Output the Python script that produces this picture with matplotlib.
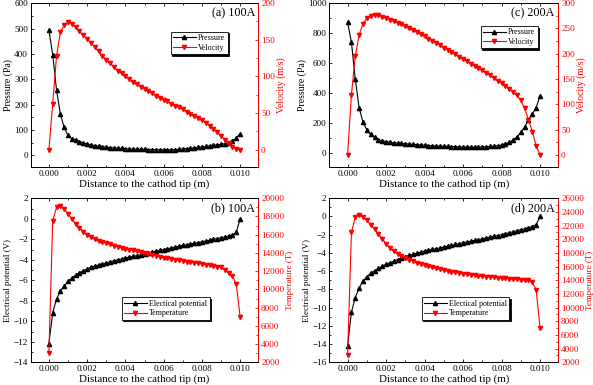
#!/usr/bin/env python

"""
  Pressure / velocity and potential / temperature along the arc axis,
  for 100A and 200A, four panels with twin y axes.
"""

#-------------
# Load modules
#-------------
import matplotlib
matplotlib.use('Agg')
import matplotlib.pyplot as plt
import numpy as np
from matplotlib.ticker import MultipleLocator, AutoMinorLocator

plt.rcParams['font.family'] = ['Liberation Serif', 'DejaVu Serif']

#-----
# Data
#-----
dist = [i * 0.0002 for i in range(51)]

pres_100 = [495, 397, 258, 162, 110, 78, 65, 62, 54, 49,
            44, 41, 38, 36, 34, 32, 30, 29, 28, 27,
            25, 25, 24, 24, 23, 23, 22, 22, 22, 21,
            21, 21, 21, 22, 23, 25, 26, 28, 29, 31,
            33, 35, 37, 39, 41, 43, 46, 49, 57, 69, 84]
vel_100 = [0, 63, 128, 160, 170, 174, 172, 167, 162, 156,
           151, 146, 140, 134, 128, 123, 118, 113, 108, 104,
           100, 96, 92, 89, 86, 83, 80, 77, 74, 71,
           68, 66, 63, 60, 58, 55, 52, 49, 46, 43,
           40, 37, 33, 29, 24, 19, 14, 9, 4, 1, 0]

pres_200 = [871, 739, 492, 301, 207, 154, 125, 105, 90, 82,
            76, 72, 68, 66, 64, 62, 60, 58, 56, 54,
            52, 50, 49, 47, 46, 45, 44, 43, 42, 41,
            40, 40, 40, 40, 40, 41, 42, 44, 46, 49,
            53, 62, 71, 87, 107, 138, 174, 220, 263, 303, 383]
vel_200 = [0, 119, 195, 237, 259, 270, 275, 277, 276, 273,
           270, 267, 264, 261, 258, 254, 250, 246, 242, 238,
           234, 230, 226, 222, 217, 212, 208, 203, 199, 194,
           189, 185, 180, 176, 171, 167, 162, 157, 152, 147,
           142, 137, 131, 125, 118, 108, 92, 70, 46, 18, 0]

pot_100 = [-12.2, -9.15, -7.84, -7.05, -6.55, -6.1, -5.8, -5.5, -5.27, -5.07,
           -4.87, -4.74, -4.62, -4.50, -4.40, -4.30, -4.20, -4.10, -4.01, -3.92,
           -3.83, -3.75, -3.67, -3.59, -3.51, -3.43, -3.34, -3.26, -3.17, -3.09,
           -3.00, -2.92, -2.84, -2.76, -2.68, -2.60, -2.53, -2.46, -2.39, -2.32,
           -2.25, -2.17, -2.09, -2.01, -1.93, -1.85, -1.77, -1.69, -1.60, -1.30, 0.0]
temp_100 = [3000, 17550, 19000, 19200, 18850, 18300, 17750, 17200, 16750, 16350,
            16000, 15750, 15520, 15320, 15180, 15050, 14930, 14810, 14700, 14590,
            14480, 14370, 14270, 14160, 14060, 13960, 13870, 13770, 13680, 13580,
            13490, 13420, 13340, 13270, 13200, 13120, 13060, 12990, 12920, 12860,
            12790, 12720, 12650, 12580, 12500, 12420, 12130, 11770, 11480, 10560, 7000]

pot_200 = [-14.2, -10.5, -8.9, -7.84, -7.1, -6.6, -6.24, -5.95, -5.7, -5.47,
           -5.25, -5.07, -4.90, -4.73, -4.56, -4.40, -4.27, -4.15, -4.03, -3.91,
           -3.80, -3.71, -3.62, -3.53, -3.45, -3.36, -3.26, -3.17, -3.07, -2.98,
           -2.88, -2.79, -2.71, -2.62, -2.54, -2.45, -2.36, -2.27, -2.18, -2.09,
           -2.00, -1.89, -1.78, -1.67, -1.56, -1.45, -1.35, -1.24, -1.10, -0.88, 0.0]
temp_200 = [3000, 21000, 23250, 23550, 23250, 22750, 22150, 21480, 20800, 20070,
            19350, 18710, 18270, 17890, 17550, 17250, 17030, 16820, 16600, 16390,
            16190, 16030, 15880, 15740, 15600, 15460, 15360, 15260, 15160, 15060,
            14970, 14890, 14810, 14730, 14660, 14580, 14530, 14480, 14440, 14390,
            14340, 14290, 14240, 14190, 14150, 14100, 14050, 14000, 13710, 12640, 7000]

#----------------------
# Function for plotting
#----------------------
def twinPanel(fig, rect, y1, y2, lab1, lab2, ylab1, ylab2, lim1, lim2,
              step2, ticks1, ticks2, tag, legpos, ylsize):
    ax = fig.add_axes(rect)
    l1, = ax.plot(dist, y1, '-^', color='black', lw=0.8, ms=3, label=lab1)
    ax.set_xlim(-0.00095, 0.01095)
    ax.set_ylim(lim1)
    ax.xaxis.set_major_locator(MultipleLocator(0.002))
    ax.xaxis.set_minor_locator(MultipleLocator(0.001))
    ax.set_yticks(ticks1)
    ax.yaxis.set_minor_locator(AutoMinorLocator(2))
    ax.xaxis.set_major_formatter(plt.FormatStrFormatter('%.3f'))
    ax.tick_params(which='both', direction='in', top=True, labelsize=6.6,
                   width=0.6, pad=2)
    ax.tick_params(which='major', length=2.5)
    ax.tick_params(which='minor', length=1.5)
    ax.set_xlabel('Distance to the cathod tip (m)', fontsize=7.8, labelpad=1)
    ax.set_ylabel(ylab1, fontsize=ylsize, labelpad=1)
    for s in ax.spines.values():
        s.set_linewidth(0.7)

    ax2 = ax.twinx()
    l2, = ax2.plot(dist, y2, '-v', color='red', lw=0.8, ms=3, label=lab2)
    ax2.set_ylim(lim2)
    ax2.set_yticks(ticks2)
    ax2.yaxis.set_minor_locator(MultipleLocator(step2 / 2.0))
    ax2.tick_params(which='both', direction='in', colors='red', labelsize=6.6,
                    width=0.6, pad=2)
    ax2.tick_params(which='major', length=2.5)
    ax2.tick_params(which='minor', length=1.5)
    ax2.set_ylabel(ylab2, color='red', fontsize=ylsize, labelpad=1)
    for s in ax2.spines.values():
        s.set_linewidth(0.7)
    ax2.spines['right'].set_color('red')

    ax.text(0.985, 0.975, tag, transform=ax.transAxes, ha='right', va='top',
            fontsize=8.7)
    leg = ax2.legend([l1, l2], [lab1, lab2], loc='upper left',
                     bbox_to_anchor=legpos, borderaxespad=0, fontsize=5.8,
                     handlelength=2.8, handletextpad=0.3, borderpad=0.3,
                     labelspacing=0.2, fancybox=False, framealpha=1,
                     edgecolor='black',
                     shadow={'color': 'black', 'alpha': 1, 'ox': 1.2, 'oy': -1.2})
    leg.get_frame().set_linewidth(0.6)
    return ax, ax2

#-----------
# The figure
#-----------
fig = plt.figure(figsize=(5.93, 3.85), dpi=100)

twinPanel(fig, [0.0518, 0.566, 0.3838, 0.426], pres_100, vel_100,
          'Pressure', 'Velocity', 'Pressure (Pa)', 'Velocity (m/s)',
          (-47, 601), (-23.6, 200), 50,
          range(0, 601, 100), range(0, 201, 50), '(a) 100A', (0.615, 0.825), 7.0)

twinPanel(fig, [0.5553, 0.566, 0.3862, 0.426], pres_200, vel_200,
          'Pressure', 'Velocity', 'Pressure (Pa)', 'Velocity (m/s)',
          (-94, 1000), (-24, 300), 50,
          range(0, 1001, 200), range(0, 301, 50), '(c) 200A', (0.661, 0.860), 7.0)

twinPanel(fig, [0.0518, 0.059, 0.3838, 0.426], pot_100, temp_100,
          'Electical potential', 'Temperature', 'Electrical potential (V)',
          'Temperature (T)', (-14, 2), (2000, 20000), 2000,
          range(-14, 3, 2), range(2000, 20001, 2000), '(b) 100A', (0.40, 0.396), 6.5)

twinPanel(fig, [0.5553, 0.059, 0.3862, 0.426], pot_200, temp_200,
          'Electical potential', 'Temperature', 'Electrical potential (V)',
          'Temperature (T)', (-16, 2), (2000, 26000), 2000,
          range(-16, 3, 2), range(2000, 26001, 2000), '(d) 200A', (0.403, 0.396), 6.5)

plt.savefig('out.png', dpi=100)
